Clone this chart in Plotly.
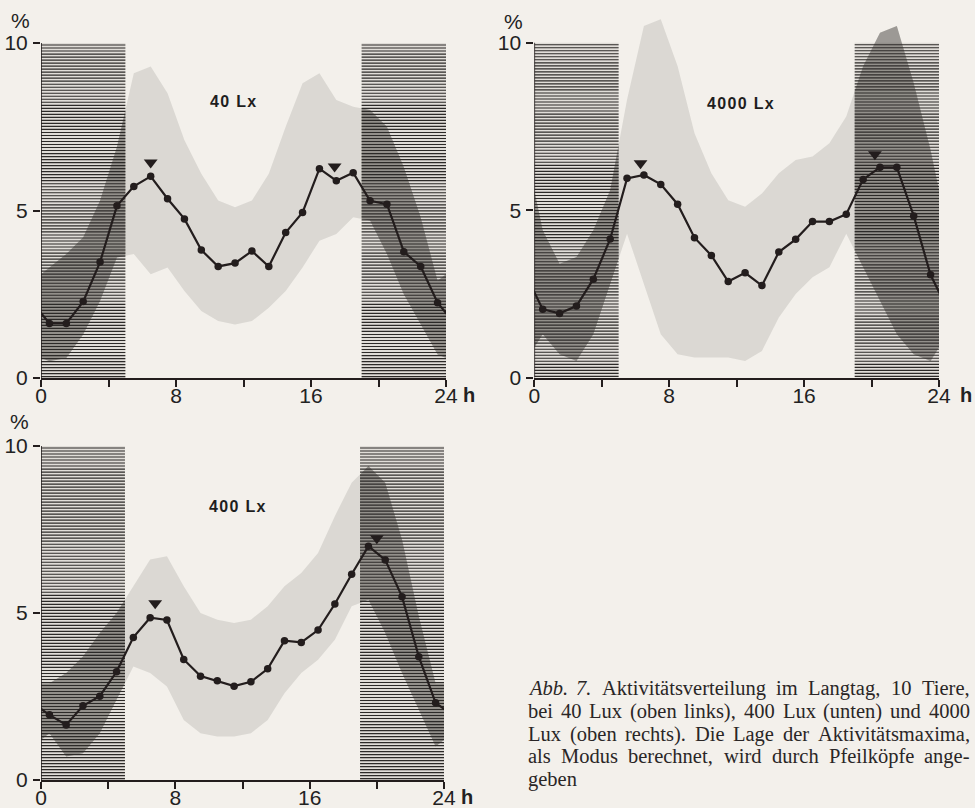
import numpy as np
import plotly.graph_objects as go

# ---------------------------------------------------------------------------
# Data: hourly activity share (%), half-hour bin centres, three light levels
# ---------------------------------------------------------------------------
hours = [0.5 + i for i in range(24)]

act_40 = [1.63, 1.63, 2.28, 3.46, 5.14, 5.72, 6.02, 5.35, 4.75, 3.82, 3.33, 3.43,
          3.79, 3.33, 4.34, 4.94, 6.25, 5.89, 6.13, 5.29, 5.19, 3.77, 3.33, 2.25]
hi_40 = [3.3, 3.7, 4.2, 5.3, 6.9, 9.1, 9.3, 8.5, 7.1, 6.1, 5.3, 5.1,
         5.3, 6.1, 7.5, 8.8, 9.1, 8.3, 8.1, 8.0, 7.5, 6.3, 4.8, 2.9]
lo_40 = [0.5, 0.6, 1.3, 2.3, 3.6, 3.7, 3.1, 3.3, 2.6, 2.0, 1.7, 1.6,
         1.7, 2.1, 2.6, 3.3, 4.1, 4.3, 4.8, 4.7, 3.7, 2.5, 1.6, 0.7]
peaks_40_x = [6.5, 17.4]
peaks_40_y = [6.43, 6.31]

act_4000 = [2.04, 1.92, 2.14, 2.94, 4.14, 5.95, 6.05, 5.77, 5.18, 4.18, 3.65, 2.87,
            3.13, 2.75, 3.75, 4.13, 4.66, 4.66, 4.88, 5.92, 6.28, 6.28, 4.83, 3.07]
hi_4000 = [4.4, 3.4, 3.6, 4.4, 5.6, 8.3, 10.5, 10.7, 9.3, 7.3, 6.1, 5.3,
           5.1, 5.5, 6.1, 6.5, 6.6, 7.0, 7.8, 9.3, 10.3, 10.5, 8.8, 6.8]
lo_4000 = [1.3, 0.7, 0.5, 1.3, 2.8, 4.3, 2.8, 1.3, 0.7, 0.6, 0.6, 0.6,
           0.5, 0.8, 1.8, 2.5, 3.0, 3.3, 4.3, 3.3, 2.3, 1.3, 0.7, 0.5]
peaks_4000_x = [6.3, 20.2]
peaks_4000_y = [6.4, 6.67]

act_400 = [1.95, 1.65, 2.22, 2.51, 3.24, 4.27, 4.86, 4.79, 3.61, 3.11, 2.97, 2.81,
           2.94, 3.33, 4.17, 4.12, 4.49, 5.27, 6.16, 7.00, 6.59, 5.49, 3.69, 2.31]
hi_400 = [2.9, 3.2, 3.7, 4.4, 5.0, 5.8, 6.6, 6.7, 5.8, 5.0, 4.8, 4.7,
          4.8, 5.2, 5.8, 6.2, 6.8, 7.9, 8.9, 9.4, 8.9, 7.2, 4.9, 2.9]
lo_400 = [1.4, 0.7, 0.8, 1.4, 2.4, 3.4, 3.2, 2.8, 1.8, 1.4, 1.3, 1.3,
          1.4, 1.8, 2.6, 3.2, 3.6, 4.2, 5.2, 5.4, 4.4, 3.2, 2.1, 1.0]
peaks_400_x = [6.8, 20.0]
peaks_400_y = [5.29, 7.24]

# dark phases of the long day (h)
nights = [(0, 5), (19, 24)]

x_tickvals = [0, 4, 8, 12, 16, 20, 24]
x_ticktext = ["0", "", "8", "", "16", "", "24"]
y_tickvals = [0, 5, 10]

caption_lines = [
    ["<i>Abb.</i>", "<i>7.</i>", "Aktivitätsverteilung", "im", "Langtag,", "10", "Tiere,"],
    ["bei", "40", "Lux", "(oben", "links),", "400", "Lux", "(unten)", "und", "4000"],
    ["Lux", "(oben", "rechts).", "Die", "Lage", "der", "Aktivitätsmaxima,"],
    ["als", "Modus", "berechnet,", "wird", "durch", "Pfeilköpfe", "ange-"],
    ["geben"],
]

# ---------------------------------------------------------------------------
W, H = 975, 808
PAPER = "#f3f0eb"
INK = "#231d1d"
SANS = "Liberation Sans, Arial, sans-serif"
SERIF = "Liberation Serif, Times New Roman, serif"
Y_TOP = 10.9


def px_x(p):
    return p / W


def px_y(p):
    return 1 - p / H


panels = [
    dict(name="40 Lx", act=act_40, lo=lo_40, hi=hi_40, px=peaks_40_x, py=peaks_40_y,
         box=(41, 446, 378, 43), label=(11.4, 8.25), pct=(20, 20), h=(469, 395), n=""),
    dict(name="4000 Lx", act=act_4000, lo=lo_4000, hi=hi_4000, px=peaks_4000_x, py=peaks_4000_y,
         box=(534.3, 939, 377.7, 42.7), label=(12.2, 8.2), pct=(513, 21), h=(966, 395), n="2"),
    dict(name="400 Lx", act=act_400, lo=lo_400, hi=hi_400, px=peaks_400_x, py=peaks_400_y,
         box=(41, 444, 780, 446), label=(11.7, 8.2), pct=(19, 421), h=(467, 797), n="3"),
]


def periodic(x, v):
    """Repeat the last/first bin beyond the day edges (24 h cycle)."""
    return [x[-1] - 24] + list(x) + [x[0] + 24], [v[-1]] + list(v) + [v[0]]


def clip_band(x, lo, hi, a, b):
    xe, le = periodic(x, lo)
    _, he = periodic(x, hi)
    xe = np.array(xe)
    inner = xe[(xe > a) & (xe < b)]
    grid = np.concatenate([[a], inner, [b]])
    l = np.interp(grid, xe, le)
    h = np.interp(grid, xe, he)
    return list(grid) + list(grid[::-1]), list(h) + list(l[::-1])


fig = go.Figure()
shapes = []
annotations = []

for p in panels:
    xa, ya = "x" + p["n"], "y" + p["n"]
    left, right, zero, ten = p["box"]
    top = zero - Y_TOP * (zero - ten) / 10
    fig.update_layout(**{
        "xaxis" + p["n"]: dict(domain=[px_x(left), px_x(right)], range=[0, 24], anchor=ya,
                               showline=True, linecolor=INK, linewidth=1.6, ticks="outside",
                               ticklen=7, tickwidth=1.6, tickcolor=INK, tickvals=x_tickvals,
                               ticktext=x_ticktext, showgrid=False, zeroline=False,
                               automargin=False, ticklabelstandoff=-9,
                               tickfont=dict(family=SANS, size=21, color="#222")),
        "yaxis" + p["n"]: dict(domain=[px_y(zero), px_y(top)], range=[0, Y_TOP], anchor=xa,
                               showline=False, ticks="outside", ticklen=7, tickwidth=1.6,
                               tickcolor=INK, tickvals=y_tickvals, showgrid=False,
                               zeroline=False, ticklabelstandoff=1, automargin=False,
                               tickfont=dict(family=SANS, size=21, color="#222")),
    })
    # y-axis spine from 0 to 10 %
    shapes.append(dict(type="line", xref=xa, yref=ya, x0=0, x1=0, y0=0, y1=10,
                       line=dict(color=INK, width=1.6), layer="above"))
    # faint base tone of the dark phases
    for a, b in nights:
        shapes.append(dict(type="rect", xref=xa, yref=ya, x0=a, x1=b, y0=0, y1=10,
                           fillcolor="rgba(60,55,50,0.10)", line=dict(width=0), layer="below"))

    # variability band across the day
    xb, hb = periodic(hours, p["hi"])
    _, lb = periodic(hours, p["lo"])
    fig.add_trace(go.Scatter(x=xb + xb[::-1], y=hb + lb[::-1], fill="toself", mode="lines",
                             line=dict(width=0), fillcolor="rgba(95,92,88,0.16)",
                             hoverinfo="skip", showlegend=False, xaxis=xa, yaxis=ya))
    # the same band darker inside the dark phases
    for a, b in nights:
        bx, by = clip_band(hours, p["lo"], p["hi"], a, b)
        fig.add_trace(go.Scatter(x=bx, y=by, fill="toself", mode="lines", line=dict(width=0),
                                 fillcolor="rgba(35,32,30,0.34)", hoverinfo="skip",
                                 showlegend=False, xaxis=xa, yaxis=ya))
    # horizontal hatching of the dark phases
    levels = np.arange(0.04, 10.0, 0.09)
    for a, b in nights:
        hx, hy = [], []
        for lv in levels:
            hx += [a, b, None]
            hy += [lv, lv, None]
        fig.add_trace(go.Scatter(x=hx, y=hy, mode="lines", line=dict(color="#2c2a28", width=1.15),
                                 hoverinfo="skip", showlegend=False, xaxis=xa, yaxis=ya))

    # activity curve
    xl, yl = periodic(hours, p["act"])
    fig.add_trace(go.Scatter(x=xl, y=yl, mode="lines+markers",
                             line=dict(color=INK, width=2.2),
                             marker=dict(size=7.5, color=INK),
                             showlegend=False, xaxis=xa, yaxis=ya))
    # activity maxima (mode)
    fig.add_trace(go.Scatter(x=p["px"], y=p["py"], mode="markers",
                             marker=dict(symbol="triangle-down", size=12, color=INK),
                             showlegend=False, xaxis=xa, yaxis=ya))

    annotations.append(dict(x=p["label"][0], y=p["label"][1], xref=xa, yref=ya,
                            text="&#8202;".join(p["name"]).replace(" ", "&nbsp;"),
                            showarrow=False, font=dict(family=SANS, size=16, color="#1e1e1e",
                                                       weight="bold")))
    annotations.append(dict(x=px_x(p["pct"][0]), y=px_y(p["pct"][1]), xref="paper", yref="paper",
                            text="%", showarrow=False, xanchor="center", yanchor="middle",
                            font=dict(family=SANS, size=21, color="#222")))
    annotations.append(dict(x=px_x(p["h"][0]), y=px_y(p["h"][1]), xref="paper", yref="paper",
                            text="<b>h</b>", showarrow=False, xanchor="center", yanchor="middle",
                            font=dict(family=SANS, size=20, color="#222")))

# ---------------------------------------------------------------------------
# Justified caption (Times metrics for word widths)
# ---------------------------------------------------------------------------
ROMAN = {" ": 250, "(": 333, ")": 333, ",": 250, "-": 333, ".": 250,
         "A": 722, "D": 722, "L": 611, "M": 889, "P": 556, "T": 611,
         "a": 444, "b": 500, "c": 444, "d": 500, "e": 444, "f": 333, "g": 500, "h": 500,
         "i": 278, "k": 500, "l": 278, "m": 778, "n": 500, "o": 500, "p": 500, "r": 333,
         "s": 389, "t": 278, "u": 500, "v": 500, "w": 722, "x": 500, "ä": 444, "ö": 500}
ITALIC = {"A": 611, "b": 500, ".": 250, "7": 500}
FS = 20.5
CAP_L, CAP_R = 526, 968
CAP_Y = [690, 713, 736, 758, 781]


def word_width(w):
    if w.startswith("<i>"):
        core = w[3:-4]
        return sum(ITALIC.get(c, 500) for c in core) * FS / 1000
    return sum(ROMAN.get(c, 500) for c in w) * FS / 1000


for i, words in enumerate(caption_lines):
    widths = [word_width(w) for w in words]
    if len(words) > 1 and i < len(caption_lines) - 1:
        gap = (CAP_R - CAP_L - sum(widths)) / (len(words) - 1)
    else:
        gap = ROMAN[" "] * FS / 1000
    xpos = CAP_L
    for w, wd in zip(words, widths):
        annotations.append(dict(x=px_x(xpos), y=px_y(CAP_Y[i] - 2), xref="paper", yref="paper",
                                text=w, showarrow=False, xanchor="left", yanchor="middle",
                                font=dict(family=SERIF, size=FS, color="#2a2626")))
        xpos += wd + gap

fig.update_layout(width=W, height=H, margin=dict(l=0, r=0, t=0, b=0, autoexpand=False),
                  paper_bgcolor=PAPER, plot_bgcolor="rgba(0,0,0,0)",
                  shapes=shapes, annotations=annotations, showlegend=False)

fig.write_html("out.html")
